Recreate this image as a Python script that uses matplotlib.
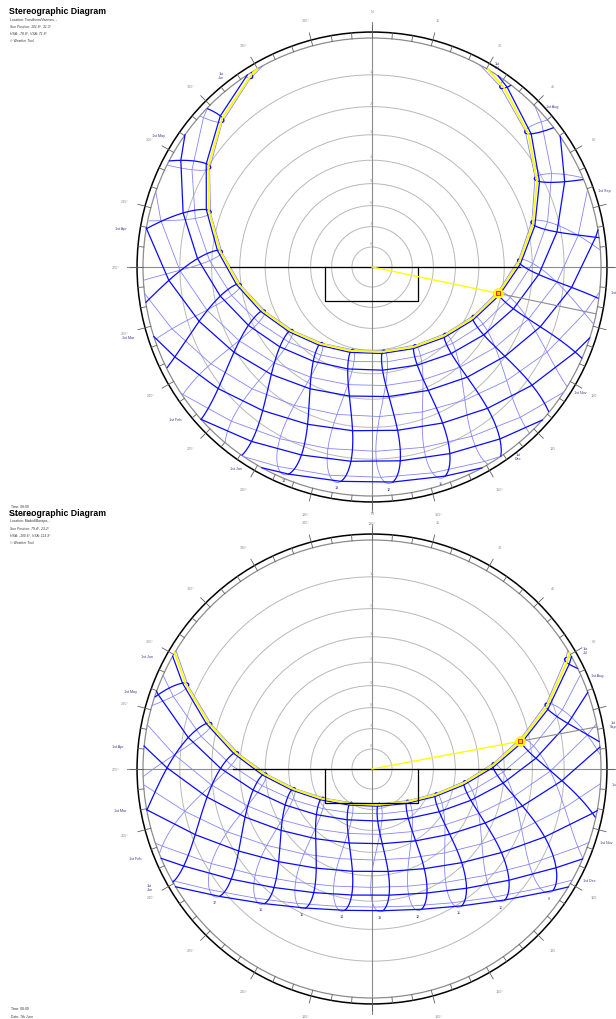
import numpy as np
import matplotlib
matplotlib.use('Agg')
import matplotlib.pyplot as plt
from matplotlib.patches import Circle

plt.rcParams['font.family'] = ['Liberation Sans', 'DejaVu Sans']

W, H = 616, 1020
R_PX = 229      # horizon radius in pixels
LIM = 1.15      # axes half-width, in horizon radii
PT = 72 / 100   # points per pixel

# one diagram per site
sites = ['Trondheim/Vaernes, -', 'Madrid/Barajas, -']
latitudes = [63.47, 40.47]
longitudes = [9.7, -3.56]
utc_offsets = [1.0, 1.0]
sun_az = [101.8, 79.4]
sun_alt = [31.3, 23.2]
hsa = [-78.8, -100.6]
vsa = [71.8, 113.3]
time_str = '08:00'
date_str = '7th June'
current_doy = 158

month_names = ['Jan', 'Feb', 'Mar', 'Apr', 'May', 'Jun',
               'Jul', 'Aug', 'Sep', 'Oct', 'Nov', 'Dec']
month_doy = [1, 32, 60, 91, 121, 152, 182, 213, 244, 274, 305, 335]
clock_hours = list(range(24))
ring_alts = [10, 20, 30, 40, 50, 60, 70, 80]
az_labels = list(range(0, 360, 15))
stacked_months = [{'Jun', 'Jul', 'Dec'}, {'Jul', 'Sep', 'Jan'}]

# black shading outline, in horizon radii
shade_span = [(-0.62, 0.646), (-0.607, 0.603)]
shade_box_x = (-0.205, 0.2)
shade_box_depth = 0.148

centres_y = [268, 770]

THICK = '#0a0aff'
LIGHT = '#8585ff'
GREY = '#8c8c8c'


def sun_position(lat, lon, tz, doy, hour):
    g = 2 * np.pi / 365 * (doy - 1 + (hour - 12) / 24)
    eot = 229.18 * (0.000075 + 0.001868 * np.cos(g) - 0.032077 * np.sin(g)
                    - 0.014615 * np.cos(2 * g) - 0.040849 * np.sin(2 * g))
    dec = (0.006918 - 0.399912 * np.cos(g) + 0.070257 * np.sin(g)
           - 0.006758 * np.cos(2 * g) + 0.000907 * np.sin(2 * g)
           - 0.002697 * np.cos(3 * g) + 0.00148 * np.sin(3 * g))
    tst = hour * 60 + eot + 4 * lon - 60 * tz
    ha = np.radians(tst / 4 - 180)
    phi = np.radians(lat)
    sin_alt = np.sin(phi) * np.sin(dec) + np.cos(phi) * np.cos(dec) * np.cos(ha)
    alt = np.arcsin(np.clip(sin_alt, -1, 1))
    cos_az = (np.sin(dec) - np.sin(alt) * np.sin(phi)) / (np.cos(alt) * np.cos(phi))
    az = np.degrees(np.arccos(np.clip(cos_az, -1, 1)))
    az = np.where(np.sin(ha) > 0, 360 - az, az)
    return az, np.degrees(alt)


def stereo(az, alt):
    r = np.tan(np.radians(90 - np.asarray(alt, dtype=float)) / 2)
    a = np.radians(az)
    return r * np.sin(a), r * np.cos(a)


def day_path(lat, lon, tz, doy):
    t = np.linspace(0, 24, 24 * 60 + 1)
    _, alt = sun_position(lat, lon, tz, doy, t)
    up = alt > 0
    rise = sett = None
    for i in np.where(np.diff(up.astype(int)) != 0)[0]:
        tc = t[i] + alt[i] / (alt[i] - alt[i + 1]) * (t[i + 1] - t[i])
        if up[i + 1]:
            rise = tc
        else:
            sett = tc
    times = [rise] + [h for h in clock_hours if rise < h < sett] + [sett]
    az, alt = sun_position(lat, lon, tz, doy, np.array(times))
    alt[0] = alt[-1] = 0.0
    return az, alt


def draw_chart(ax, k):
    lat, lon, tz = latitudes[k], longitudes[k], utc_offsets[k]
    ax.set_xlim(-LIM, LIM)
    ax.set_ylim(-LIM, LIM)
    ax.set_aspect('equal')
    ax.axis('off')

    # altitude rings
    for a in ring_alts:
        r = np.tan(np.radians(90 - a) / 2)
        ax.add_patch(Circle((0, 0), r, fill=False, ec='#b8b8b8', lw=0.7, zorder=1))
        ax.annotate(str(a), (0, r), xytext=(0, 1.5), textcoords='offset points',
                    ha='center', va='bottom', fontsize=2.7, color='#a0a0a0')

    ax.plot([-1.07, 1.07], [0, 0], color=GREY, lw=0.8, zorder=1)
    ax.plot([0, 0], [-1.07, 1.07], color=GREY, lw=0.8, zorder=1)
    ax.add_patch(Circle((0, 0), 1.0, fill=False, ec=GREY, lw=0.9, zorder=1))
    ax.add_patch(Circle((0, 0), 1.026, fill=False, ec='black', lw=1.1, zorder=1))

    # azimuth ticks and labels
    for az in range(0, 360, 5):
        r_out = 1.058 if az % 15 == 0 else 1.026
        x, y = stereo([az, az], [0, 0])
        ax.plot(x * np.array([1.0, r_out]), y * np.array([1.0, r_out]),
                color='#606060', lw=0.6, zorder=1)
    for az in az_labels:
        x, y = stereo(az, 0)
        if az == 0:
            s = 'N'
        elif az <= 135:
            s = str(az)
        else:
            s = f'{az}°'
        ax.text(x * 1.118, y * 1.118, s, ha='center', va='center',
                fontsize=2.7, color='#909090')

    # hour lines (analemmas): Jan-Jun dark, Jul-Dec light
    first_half = np.arange(1, 183)
    second_half = np.arange(182, 367)
    for h in clock_hours:
        for days, col, lw in ((second_half, LIGHT, 0.6), (first_half, THICK, 0.9)):
            az, alt = sun_position(lat, lon, tz, days, h)
            x, y = stereo(az, alt)
            x = np.where(alt >= 0, x, np.nan)
            y = np.where(alt >= 0, y, np.nan)
            ax.plot(x, y, color=col, lw=lw, zorder=2 if col == LIGHT else 3)
        az, alt = sun_position(lat, lon, tz, 355, h)
        if alt > 0:
            x, y = stereo(az, alt)
            ax.annotate(str(h), (x, y), xytext=(0, -3 * PT), textcoords='offset points',
                        ha='center', va='top', fontsize=2.7, color='#3a3aa0')

    # date lines on the 1st of each month
    for name, doy in zip(month_names, month_doy):
        az, alt = day_path(lat, lon, tz, doy)
        x, y = stereo(az, alt)
        early = doy < 182
        ax.plot(x, y, color=THICK if early else LIGHT, lw=0.9 if early else 0.6,
                zorder=3 if early else 2)
        label = f'1st\n{name}' if name in stacked_months[k] else f'1st {name}'
        idx = -1 if early else 0
        dx = -26 if early else 17
        ax.annotate(label, (x[idx], y[idx]), xytext=(dx * PT, 0),
                    textcoords='offset points', ha='center', va='center',
                    fontsize=2.7, color='#3c3c96', linespacing=1.0)

    az, alt = day_path(lat, lon, tz, current_doy)
    x, y = stereo(az, alt)
    ax.plot(x, y, color='#ffff00', lw=1.4, zorder=4)

    # shading outline
    left, right = shade_span[k]
    ax.plot([left, right], [0, 0], color='black', lw=0.9, zorder=5)
    bx0, bx1 = shade_box_x
    ax.plot([bx0, bx0, bx1, bx1], [0, -shade_box_depth, -shade_box_depth, 0],
            color='black', lw=0.9, zorder=5)

    # current sun position
    sx, sy = stereo(sun_az[k], sun_alt[k])
    hx, hy = stereo(sun_az[k], 0)
    ax.plot([0, sx], [0, sy], color='#ffff00', lw=1.0, zorder=6)
    ax.plot([sx, hx], [sy, hy], color=GREY, lw=0.8, zorder=6)
    ax.plot(sx, sy, 'o', ms=7.2, mfc='#ffff00', mec='#f0e000', mew=0.3, zorder=7)
    ax.plot(sx, sy, 's', ms=2.6, mfc='#ffcc00', mec='red', mew=0.6, zorder=8)


def ftext(x, y, s, **kw):
    fig.text(x / W, 1 - y / H, s, va='center', ha='left', **kw)


fig = plt.figure(figsize=(W / 100, H / 100), dpi=100)
side = 2 * LIM * R_PX
for k, cy in enumerate(centres_y):
    ax = fig.add_axes([(372 - side / 2) / W, (H - cy - side / 2) / H, side / W, side / H])
    ax.patch.set_visible(False)
    draw_chart(ax, k)

    top = cy - 268
    ftext(9, top + 12, 'Stereographic Diagram', fontsize=6.3, fontweight='bold')
    ftext(10, top + 19.5, f'Location: {sites[k]}', fontsize=2.4, color='#333333')
    ftext(10, top + 26.5, f'Sun Position: {sun_az[k]:.1f}°, {sun_alt[k]:.1f}°',
          fontsize=2.4, color='#333333', style='italic')
    ftext(10, top + 33.5, f'HSA: {hsa[k]:.1f}°, VSA: {vsa[k]:.1f}°',
          fontsize=2.4, color='#333333', style='italic')
    ftext(10, top + 41, '© Weather Tool', fontsize=2.4, color='#333333', style='italic')
    ftext(11, top + 507, f'Time: {time_str}', fontsize=2.4, color='#333333')
    ftext(11, top + 515, f'Date: {date_str}', fontsize=2.4, color='#333333')

fig.savefig('out.png', dpi=100)
